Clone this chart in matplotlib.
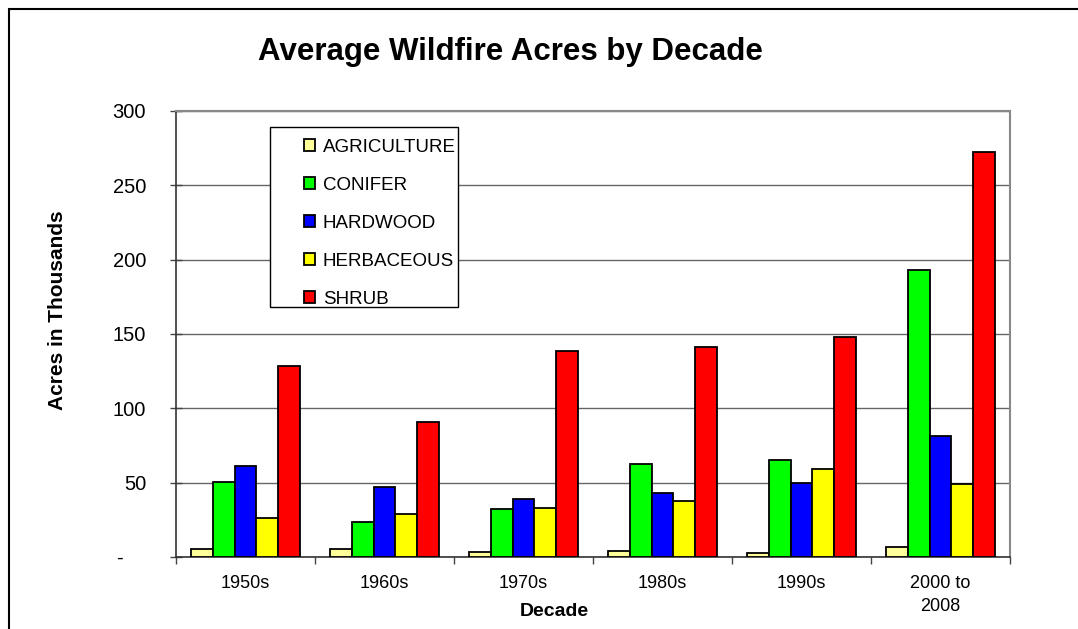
import numpy as np
import matplotlib
matplotlib.use("Agg")
import matplotlib.pyplot as plt
from matplotlib.patches import Rectangle

plt.rcParams['font.family'] = ['Liberation Sans', 'DejaVu Sans']

# data (thousands of acres)
decades = ['1950s', '1960s', '1970s', '1980s', '1990s', '2000 to\n2008']
agriculture = [5.4, 5.4, 3.2, 4.2, 2.9, 6.5]
conifer = [50.6, 23.8, 32.3, 62.5, 65.0, 192.8]
hardwood = [61.4, 47.3, 39.2, 42.8, 50.0, 81.6]
herbaceous = [26.0, 28.7, 33.2, 37.9, 59.2, 48.9]
shrub = [128.4, 91.0, 138.7, 141.4, 148.2, 272.5]

series = [('AGRICULTURE', agriculture, '#FFFF99'),
          ('CONIFER', conifer, '#00FF00'),
          ('HARDWOOD', hardwood, '#0000FF'),
          ('HERBACEOUS', herbaceous, '#FFFF00'),
          ('SHRUB', shrub, '#FF0000')]

W, H = 1078, 629
fig = plt.figure(figsize=(W / 100, H / 100), dpi=100)
ax = fig.add_axes([176 / W, 1 - 557 / H, 834 / W, 446 / H])

# outer chart border (only left/top visible in the crop)
fig.patches.append(Rectangle((9 / W, -0.1), 1.2, 1 - 9 / H + 0.1, transform=fig.transFigure,
                             fill=False, edgecolor='black', lw=1.5))

x = np.arange(len(decades))
bw = 0.1555
handles = []
for i, (name, vals, col) in enumerate(series):
    b = ax.bar(x + (i - 2) * bw, vals, bw, color=col, edgecolor='black', lw=1.3,
               label=name, zorder=3)
    handles.append(b)

ax.set_xlim(-0.5, len(decades) - 0.5)
ax.set_ylim(0, 300)
ax.set_yticks(range(0, 301, 50))
ax.set_yticklabels(['-    '] + [str(v) for v in range(50, 301, 50)])
ax.yaxis.grid(True, color='#666666', lw=1.0, zorder=0)
ax.set_axisbelow(True)

ax.set_xticks(np.arange(-0.5, len(decades)), minor=False)
ax.set_xticklabels([])
ax.set_xticks(x, minor=True)
ax.set_xticklabels(decades, minor=True, fontsize=13, linespacing=1.45, va='top')
ax.tick_params(axis='x', which='major', direction='out', length=5, width=1, color='#444444')
ax.tick_params(axis='x', which='minor', length=0, pad=13)
ax.tick_params(axis='y', direction='inout', length=9, width=1, labelsize=14.5, pad=17,
               color='#444444')

for s in ['left', 'bottom']:
    ax.spines[s].set_color('#333333')
    ax.spines[s].set_linewidth(1.2)
for s in ['top', 'right']:
    ax.spines[s].set_color('#888888')
    ax.spines[s].set_linewidth(1.5)

# legend box
ax.add_patch(Rectangle(((270 - 176) / 834, (557 - 307) / 446), 188 / 834, 180 / 446,
                       transform=ax.transAxes, facecolor='white', edgecolor='black',
                       lw=1.0, zorder=4))
leg = ax.legend(handles=handles, loc='upper left', frameon=False, fontsize=13.5,
                bbox_to_anchor=((304 - 176) / 834, (557 - 139) / 446),
                handlelength=0.6, handleheight=0.6, handletextpad=0.4,
                labelspacing=1.12, borderpad=0, borderaxespad=0)
leg.set_zorder(5)

fig.text(510 / W, 1 - 52 / H, 'Average Wildfire Acres by Decade', fontsize=22.5,
         fontweight='bold', ha='center', va='center')
fig.text(554 / W, 1 - 611 / H, 'Decade', fontsize=14, fontweight='bold',
         ha='center', va='center')
fig.text(58 / W, 1 - 310 / H, 'Acres in Thousands', fontsize=15, fontweight='bold',
         rotation=90, ha='center', va='center')

fig.savefig('out.png', dpi=100)
